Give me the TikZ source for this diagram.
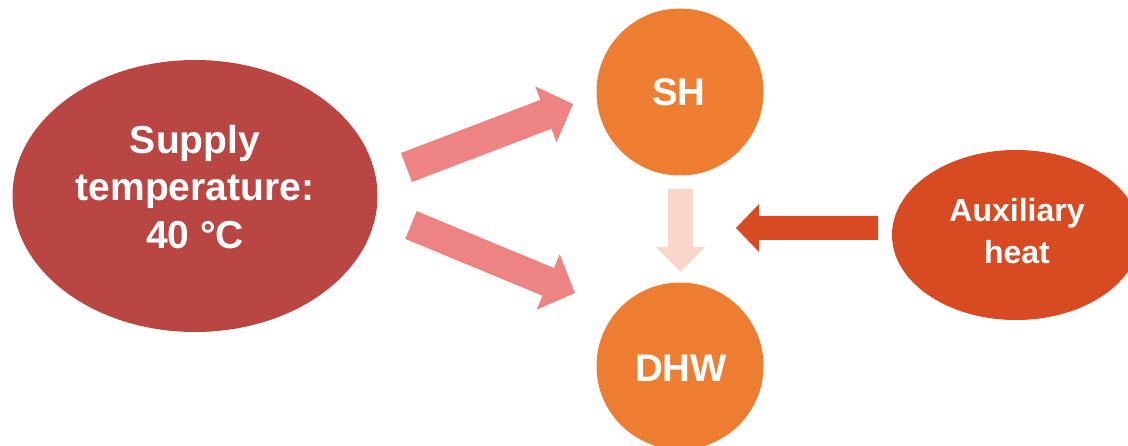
\documentclass[tikz,border=0pt]{standalone}
\usepackage{fontspec}
\setmainfont{Liberation Sans}
\usetikzlibrary{calc,shapes.geometric}
\definecolor{supplyred}{HTML}{B94643}
\definecolor{loadorange}{HTML}{ED7D31}
\definecolor{auxred}{HTML}{D84A22}
\definecolor{pinkarrow}{HTML}{EE8383}
\definecolor{palearrow}{HTML}{F8D6CB}
\newcommand\blockarr[6]{% tail, tip, shaft half width, head half width, head length, colour
  \coordinate (ba-n) at ($(#2)!#5!(#1)$);
  \fill[#6] ($(#1)!#3!90:(#2)$) -- ($(ba-n)!#3!-90:(#1)$) -- ($(ba-n)!#4!-90:(#1)$) -- (#2)
    -- ($(ba-n)!#4!90:(#1)$) -- ($(ba-n)!#3!90:(#1)$) -- ($(#1)!#3!-90:(#2)$) -- cycle;
}
\tikzset{
  blob/.style={fill=#1, draw=none, inner sep=0pt},
  bigtext/.style={text=white, font=\bfseries\fontsize{39}{47.5}\selectfont, align=center, inner sep=0pt},
  lbltext/.style={text=white, font=\bfseries\fontsize{38.5}{47.5}\selectfont, align=center, inner sep=0pt},
  auxtext/.style={text=white, font=\bfseries\fontsize{32}{42}\selectfont, align=center, inner sep=0pt},
}
\begin{document}
\begin{tikzpicture}[x=1pt,y=1pt]
\path[use as bounding box] (0,0) rectangle (1128,445);
\clip (0,0) rectangle (1128,445);
% shapes
\node[blob=supplyred, ellipse, minimum width=365pt, minimum height=272pt] (supply) at (195,249) {};
\node[blob=loadorange, circle, minimum size=167pt] (sh) at (680,353) {};
\node[blob=loadorange, circle, minimum size=167pt] (dhw) at (680,79) {};
\node[blob=auxred, ellipse, minimum width=248pt, minimum height=170pt] (aux) at (1016,210) {};
% texts
\node[bigtext] (supplytxt) at (195,258) {Supply\\temperature:\\40 °C};
\node[lbltext] (shtxt) at (679,353) {SH};
\node[lbltext] (dhwtxt) at (681,77) {DHW};
\node[auxtext] (auxtxt) at (1017,214) {Auxiliary\\heat};
% arrows
\coordinate (a1t) at (406.5,277.5);
\coordinate (a1h) at (573,341);
\coordinate (a2t) at (411,220);
\coordinate (a2h) at (575,152);
\coordinate (a3t) at (680.5,256);
\coordinate (a3h) at (680.5,173);
\coordinate (a4t) at (878,217);
\coordinate (a4h) at (736,217);
\blockarr{a1t}{a1h}{15.5pt}{30pt}{29pt}{pinkarrow}
\blockarr{a2t}{a2h}{15pt}{30pt}{29pt}{pinkarrow}
\blockarr{a3t}{a3h}{12.5pt}{24.5pt}{25pt}{palearrow}
\blockarr{a4t}{a4h}{12pt}{24pt}{23pt}{auxred}
\end{tikzpicture}
\end{document}
